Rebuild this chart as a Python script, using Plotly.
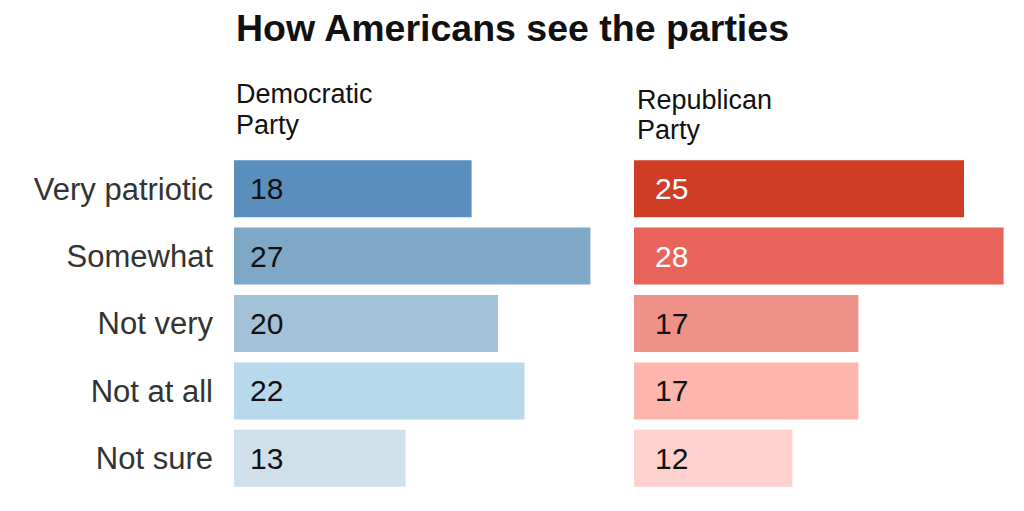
import plotly.graph_objects as go

categories = ["Very patriotic", "Somewhat", "Not very", "Not at all", "Not sure"]
dem_values = [18, 27, 20, 22, 13]
rep_values = [25, 28, 17, 17, 12]
dem_colors = ["#5a8fbd", "#7fa8c6", "#a3c2d7", "#b8d8ec", "#d0e0ea"]
rep_colors = ["#cf3d26", "#e8645a", "#ee9189", "#fdb5ae", "#ffd1cc"]
dem_text_colors = ["#111", "#111", "#111", "#111", "#111"]
rep_text_colors = ["#fff", "#fff", "#111", "#111", "#111"]

W, H = 1024, 511
top, bottom = 147, 27
plot_h = H - top - bottom
scale = 13.2  # px per unit
dem_x0 = 226
rep_x0 = 626
dem_max = 30
rep_max = 29
FONT = "Liberation Sans"

def py(pix):
    return (H - bottom - pix) / plot_h

fig = go.Figure()
fig.add_trace(go.Bar(y=categories, x=dem_values, orientation="h",
                     marker=dict(color=dem_colors, line=dict(width=0)),
                     xaxis="x", yaxis="y", hoverinfo="skip"))
fig.add_trace(go.Bar(y=categories, x=rep_values, orientation="h",
                     marker=dict(color=rep_colors, line=dict(width=0)),
                     xaxis="x2", yaxis="y2", hoverinfo="skip"))

annotations = []
for c, v, tc in zip(categories, dem_values, dem_text_colors):
    annotations.append(dict(x=0, y=c, xref="x", yref="y", text=str(v), showarrow=False,
                            xanchor="left", xshift=14, yshift=0,
                            font=dict(size=30, color=tc, family=FONT)))
for c, v, tc in zip(categories, rep_values, rep_text_colors):
    annotations.append(dict(x=0, y=c, xref="x2", yref="y2", text=str(v), showarrow=False,
                            xanchor="left", xshift=19, yshift=0,
                            font=dict(size=30, color=tc, family=FONT)))

annotations.append(dict(x=(226) / W, y=py(43), xref="paper", yref="paper",
                        text="<b>How Americans see the parties</b>", showarrow=False,
                        xanchor="left", yanchor="bottom",
                        font=dict(size=37.5, color="#111", family=FONT)))
for txt, xp, yb in [("Democratic", 226, 103), ("Party", 226, 133.5),
                    ("Republican", 627, 109), ("Party", 627, 139.5)]:
    annotations.append(dict(x=xp / W, y=py(yb), xref="paper", yref="paper",
                            text=txt, showarrow=False, align="left",
                            xanchor="left", yanchor="bottom",
                            font=dict(size=27, color="#111", family=FONT)))

fig.update_layout(
    width=W, height=H,
    margin=dict(l=0, r=0, t=top, b=bottom),
    paper_bgcolor="white", plot_bgcolor="white",
    showlegend=False, bargap=0.155,
    annotations=annotations,
    xaxis=dict(domain=[dem_x0 / W, (dem_x0 + dem_max * scale) / W], range=[0, dem_max],
               visible=False, fixedrange=True),
    xaxis2=dict(domain=[rep_x0 / W, (rep_x0 + rep_max * scale) / W], range=[0, rep_max],
                visible=False, fixedrange=True),
    yaxis=dict(anchor="x", autorange="reversed", showgrid=False, zeroline=False,
               showline=False, ticks="", ticklabelstandoff=20,
               tickfont=dict(size=31, color="#333", family=FONT)),
    yaxis2=dict(anchor="x2", matches="y", autorange="reversed", showgrid=False,
                zeroline=False, showline=False, showticklabels=False),
)

fig.write_html("out.html")
